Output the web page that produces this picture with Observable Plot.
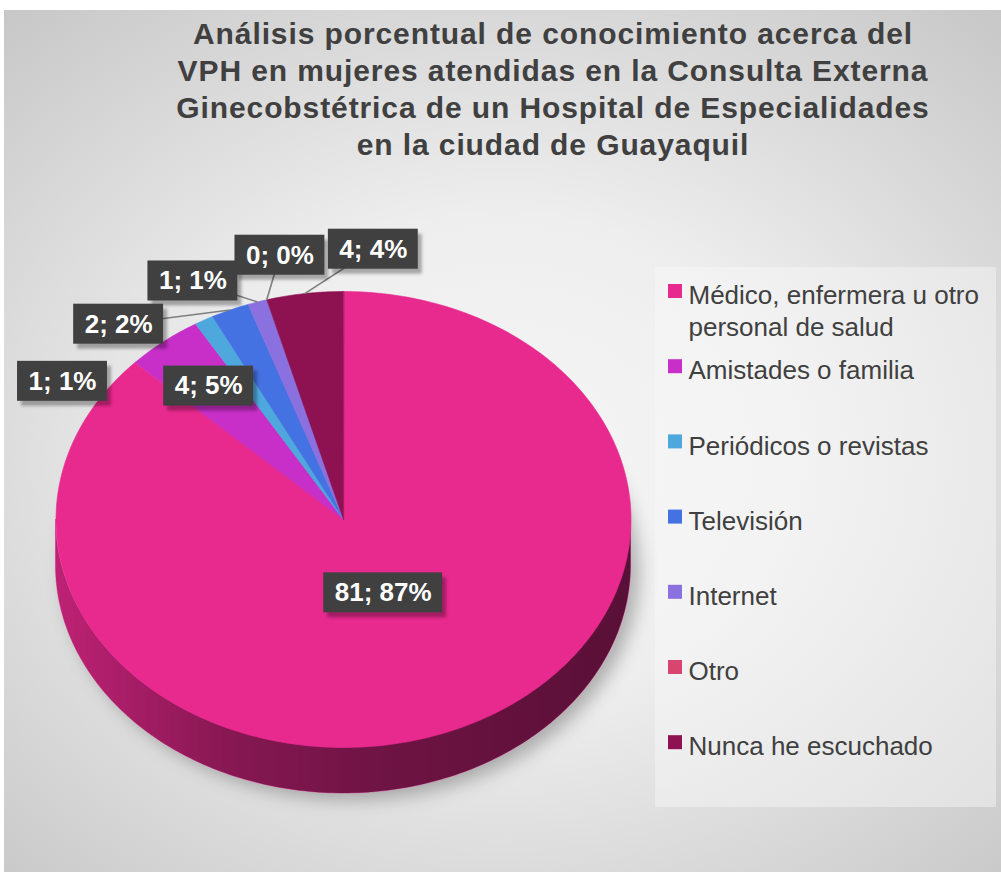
<!DOCTYPE html>
<html><head><meta charset="utf-8">
<script src="https://cdn.jsdelivr.net/npm/d3@7"></script>
<script src="https://cdn.jsdelivr.net/npm/@observablehq/plot@0.6"></script>
<style>
body{margin:0;background:#fff;}
#frame{position:absolute;left:4px;top:10px;width:997px;height:862px;overflow:hidden;
 background: radial-gradient(ellipse 75% 70% at 50% 52%, #f6f6f6 0%, #eeeeee 40%, #c7c7c7 100%);}
#title{position:absolute;left:99px;top:5px;width:900px;font-family:"Liberation Sans",Arial,sans-serif;font-weight:bold;font-size:30px;letter-spacing:0.9px;line-height:37px;color:#404040;text-align:center;}
#chart{position:absolute;left:0;top:170px;}
</style>
</head><body>
<div id="frame">
  <div id="title">Análisis porcentual de conocimiento acerca del<br>VPH en mujeres atendidas en la Consulta Externa<br>Ginecobstétrica de un Hospital de Especialidades<br>en la ciudad de Guayaquil</div>
  <div id="chart"></div>
</div>
<script>
// ---- data ----
const categories = ["Médico, enfermera u otro personal de salud","Amistades o familia","Periódicos o revistas","Televisión","Internet","Otro","Nunca he escuchado"];
const counts = [81, 4, 1, 2, 1, 0, 4];
const percents = [87, 5, 1, 2, 1, 0, 4];
const colors = ["#E8298E","#C72FC8","#4FA8DD","#4472E2","#8B70DF","#D8466F","#8E1152"];
const leaderCategories = ["Nunca he escuchado","Otro","Internet","Televisión"];

// ---- layout ----
const W = 997, H = 692;
const cx = 339, cy = 339, rx = 287.5, ry = 228, depth = 46;
const deg = Math.PI / 180;
const ex = (p, r = 1) => cx + rx * r * Math.sin(p);
const ey = (p, r = 1) => cy - ry * r * Math.cos(p);

const rows = categories.map((c, i) => ({category: c, count: counts[i], percent: percents[i]}));
const arcs = d3.pie().sort(null).value(d => d.count)(rows);
const total = d3.sum(counts);

// top faces
const topPts = arcs.filter(a => a.endAngle > a.startAngle).flatMap(a => {
  const n = Math.max(2, Math.ceil((a.endAngle - a.startAngle) / deg));
  const pts = [{category: a.data.category, x: cx, y: cy}];
  for (let k = 0; k <= n; k++) {
    const p = a.startAngle + (a.endAngle - a.startAngle) * k / n;
    pts.push({category: a.data.category, x: ex(p), y: ey(p)});
  }
  return pts;
});

// front walls
const wallPts = arcs.flatMap(a => {
  const lo = Math.max(a.startAngle, Math.PI / 2), hi = Math.min(a.endAngle, 3 * Math.PI / 2);
  if (!(hi > lo)) return [];
  const n = Math.max(2, Math.ceil((hi - lo) / deg));
  return d3.range(n + 1).map(k => {
    const p = lo + (hi - lo) * k / n;
    return {category: a.data.category, x: ex(p), y1: ey(p), y2: ey(p) + depth};
  });
});

// shadow ellipse
const shadowPts = d3.range(0, 361, 2).map(t => ({x: ex(t * deg) + 8, y: ey(t * deg) + depth + 6}));

// labels
const ctx = document.createElement("canvas").getContext("2d");
ctx.font = "bold 26px 'Liberation Sans', Arial";
const mid = a => (a.startAngle + a.endAngle) / 2;
const outside = arcs.filter(a => mid(a) > 2 * Math.PI - 30 * deg).sort((a, b) => mid(b) - mid(a));
const labels = arcs.map(a => {
  const text = `${a.data.count}; ${a.data.percent}%`;
  const oi = outside.indexOf(a);
  let lx, ly;
  if (oi >= 0) {
    const phi = (5 - 15.8 * oi) * deg;
    const r = 1.19 - 0.01 * oi;
    lx = ex(phi, r); ly = ey(phi, r);
  } else {
    const r = a.data.count / total > 0.5 ? 0.35 : 0.75;
    lx = ex(mid(a), r); ly = ey(mid(a), r);
  }
  const w = ctx.measureText(text).width + 22, h = 40;
  return {category: a.data.category, text, lx, ly, x1: lx - w / 2, x2: lx + w / 2, y1: ly - h / 2, y2: ly + h / 2,
          ax: ex(mid(a)), ay: ey(mid(a)), leader: leaderCategories.includes(a.data.category)};
});

// legend
const legend = categories.map((c, i) => ({category: c, y: 111 + 75.2 * i}));

const font = "'Liberation Sans', Arial, sans-serif";
const plot = Plot.plot({
  width: W, height: H, margin: 0,
  x: {type: "identity", axis: null},
  y: {type: "identity", axis: null},
  color: {domain: categories, range: colors},
  style: {background: "transparent", fontFamily: font, overflow: "visible"},
  marks: [
    Plot.rect([{}], {x1: 651, x2: 992, y1: 87, y2: 627, fill: "#f8f8f8", fillOpacity: 0.45}),
    Plot.line(shadowPts, {x: "x", y: "y", fill: "#000", fillOpacity: 0.28, stroke: "none", curve: "linear-closed", className: "pie-shadow"}),
    Plot.area(wallPts, {x1: "x", y1: "y1", y2: "y2", z: "category", fill: "category", stroke: "category", strokeWidth: 0.5}),
    Plot.area(wallPts, {x1: "x", y1: "y1", y2: "y2", fill: "url(#wallShade)"}),
    Plot.line(topPts, {x: "x", y: "y", z: "category", fill: "category", stroke: "category", strokeWidth: 0.6, curve: "linear-closed"}),
    Plot.link(labels.filter(d => d.leader), {x1: "lx", y1: "ly", x2: "ax", y2: "ay", stroke: "#7f7f7f", strokeWidth: 1.6}),
    Plot.rect(labels, {x1: "x1", x2: "x2", y1: "y1", y2: "y2", dx: 4, dy: 5, fill: "#000", fillOpacity: 0.3, className: "lbl-shadow"}),
    Plot.rect(labels, {x1: "x1", x2: "x2", y1: "y1", y2: "y2", fill: "#404040"}),
    Plot.text(labels, {x: "lx", y: "ly", text: "text", fill: "white", fontSize: 26, fontWeight: "bold", fontFamily: font}),
    Plot.rect(legend, {x1: 664, x2: 678, y1: d => d.y - 7, y2: d => d.y + 7, fill: "category"}),
    Plot.text(legend, {x: 684, y: d => d.y - 10, text: "category", textAnchor: "start", lineAnchor: "top", lineWidth: 13, lineHeight: 1.23,
      fill: "#404040", fontSize: 26, fontFamily: font})
  ]
});

const svg = d3.select(plot);
const defs = svg.insert("defs", ":first-child");
const g = defs.append("linearGradient").attr("id", "wallShade").attr("x1", 0).attr("x2", 1).attr("y1", 0).attr("y2", 0);
[[0, 0.18], [0.3, 0.42], [0.55, 0.52], [1, 0.62]].forEach(([o, a]) =>
  g.append("stop").attr("offset", o).attr("stop-color", "#000").attr("stop-opacity", a));
const f = defs.append("filter").attr("id", "blur").attr("x", "-20%").attr("y", "-20%").attr("width", "140%").attr("height", "140%");
f.append("feGaussianBlur").attr("stdDeviation", 9);
const f2 = defs.append("filter").attr("id", "blur2");
f2.append("feGaussianBlur").attr("stdDeviation", 1.5);
svg.selectAll(".pie-shadow").attr("filter", "url(#blur)");
svg.selectAll(".lbl-shadow").attr("filter", "url(#blur2)");

document.getElementById("chart").appendChild(plot);
</script>
</body></html>
